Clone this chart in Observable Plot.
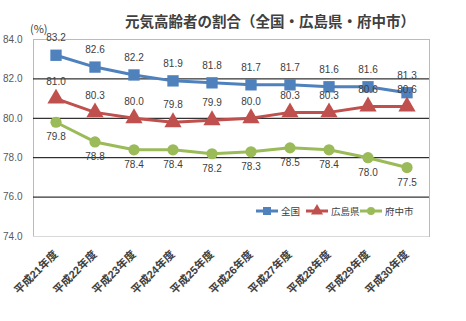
<!DOCTYPE html>
<html><head><meta charset="utf-8">
<script src="https://cdn.jsdelivr.net/npm/d3@7"></script>
<script src="https://cdn.jsdelivr.net/npm/@observablehq/plot@0.6"></script>
<style>body{margin:0;background:#fff;} #chart{position:relative;width:466px;height:321px;}</style>
</head><body><div id="chart"></div>
<script>
const years = ["平成21年度","平成22年度","平成23年度","平成24年度","平成25年度","平成26年度","平成27年度","平成28年度","平成29年度","平成30年度"];
const zenkoku = [83.2, 82.6, 82.2, 81.9, 81.8, 81.7, 81.7, 81.6, 81.6, 81.3];
const hiroshima = [81.0, 80.3, 80.0, 79.8, 79.9, 80.0, 80.3, 80.3, 80.6, 80.6];
const fuchu = [79.8, 78.8, 78.4, 78.4, 78.2, 78.3, 78.5, 78.4, 78.0, 77.5];
const seriesNames = ["全国", "広島県", "府中市"];
const yTicks = [74, 76, 78, 80, 82, 84];
const gridTicks = [76, 78, 80, 82];
const titleText = "元気高齢者の割合（全国・広島県・府中市）";
const unitText = "(%)";

const colors = ["#4F81BD", "#C0504D", "#9BBB59"];
const symbols = ["square", "triangle", "circle"];
const toRows = (vals, s) => vals.map((v, i) => ({year: years[i], value: v, series: s}));
const rows = [toRows(zenkoku, seriesNames[0]), toRows(hiroshima, seriesNames[1]), toRows(fuchu, seriesNames[2])];
const labelDy = [-17, -17, 15];
const dotR = [6.4, 6.4, 5.6];

const marks = [
  Plot.frame({stroke: "#A9BEDC"}),
  Plot.ruleY([74], {stroke: "#D9D9D9"}),
  Plot.ruleY(gridTicks, {stroke: "#000", strokeWidth: 1}),
  Plot.axisY({ticks: yTicks, tickFormat: d => d.toFixed(1), tickSize: 0, tickPadding: 11, fontSize: 10, color: "#595959"}),
  Plot.axisX({tickRotate: -45, tickSize: 0, tickPadding: 16, fontSize: 11, fontWeight: "bold", color: "#404040", textAnchor: "end"}),
];
rows.forEach((r, k) => {
  marks.push(Plot.lineY(r, {x: "year", y: "value", stroke: colors[k], strokeWidth: 3}));
  marks.push(Plot.dot(r, {x: "year", y: "value", fill: colors[k], symbol: symbols[k], r: dotR[k], stroke: "none"}));
  marks.push(Plot.text(r, {x: "year", y: "value", text: d => d.value.toFixed(1), dy: labelDy[k], fontSize: 10, fill: "#404040"}));
});

const chart = Plot.plot({
  width: 466, height: 321,
  marginLeft: 33, marginRight: 37, marginTop: 39, marginBottom: 85,
  style: {fontFamily: "'Liberation Sans', 'Noto Sans CJK JP', sans-serif", background: "#fff", overflow: "visible"},
  x: {type: "band", domain: years, padding: 0, label: null},
  y: {domain: [74, 84], label: null},
  marks
});
document.getElementById("chart").appendChild(chart);

const svg = d3.select(chart);
svg.append("text").attr("x", 270).attr("y", 27).attr("text-anchor", "middle")
  .attr("font-family", "'Noto Sans CJK JP', sans-serif").attr("font-weight", "bold")
  .attr("font-size", 14.5).attr("fill", "#404040").text(titleText);
svg.append("text").attr("x", 30).attr("y", 33).attr("text-anchor", "start")
  .attr("font-family", "'Noto Sans CJK JP', sans-serif")
  .attr("font-size", 11).attr("fill", "#404040").text(unitText);

// legend
const legendX = [256, 306, 360];
const legendY = 211;
const lg = svg.append("g");
seriesNames.forEach((name, k) => {
  const x0 = legendX[k];
  lg.append("line").attr("x1", x0).attr("x2", x0 + 22).attr("y1", legendY).attr("y2", legendY)
    .attr("stroke", colors[k]).attr("stroke-width", 3);
  const sym = d3.symbol().type(k === 0 ? d3.symbolSquare : k === 1 ? d3.symbolTriangle : d3.symbolCircle)
    .size(k === 2 ? Math.PI * 16 : Math.PI * 4.5 * 4.5);
  lg.append("path").attr("d", sym()).attr("transform", `translate(${x0 + 11},${legendY})`).attr("fill", colors[k]);
  lg.append("text").attr("x", x0 + 25).attr("y", legendY + 3.5).attr("text-anchor", "start")
    .attr("font-family", "'Noto Sans CJK JP', sans-serif")
    .attr("font-size", 9.5).attr("fill", "#404040").text(name);
});
</script></body></html>
